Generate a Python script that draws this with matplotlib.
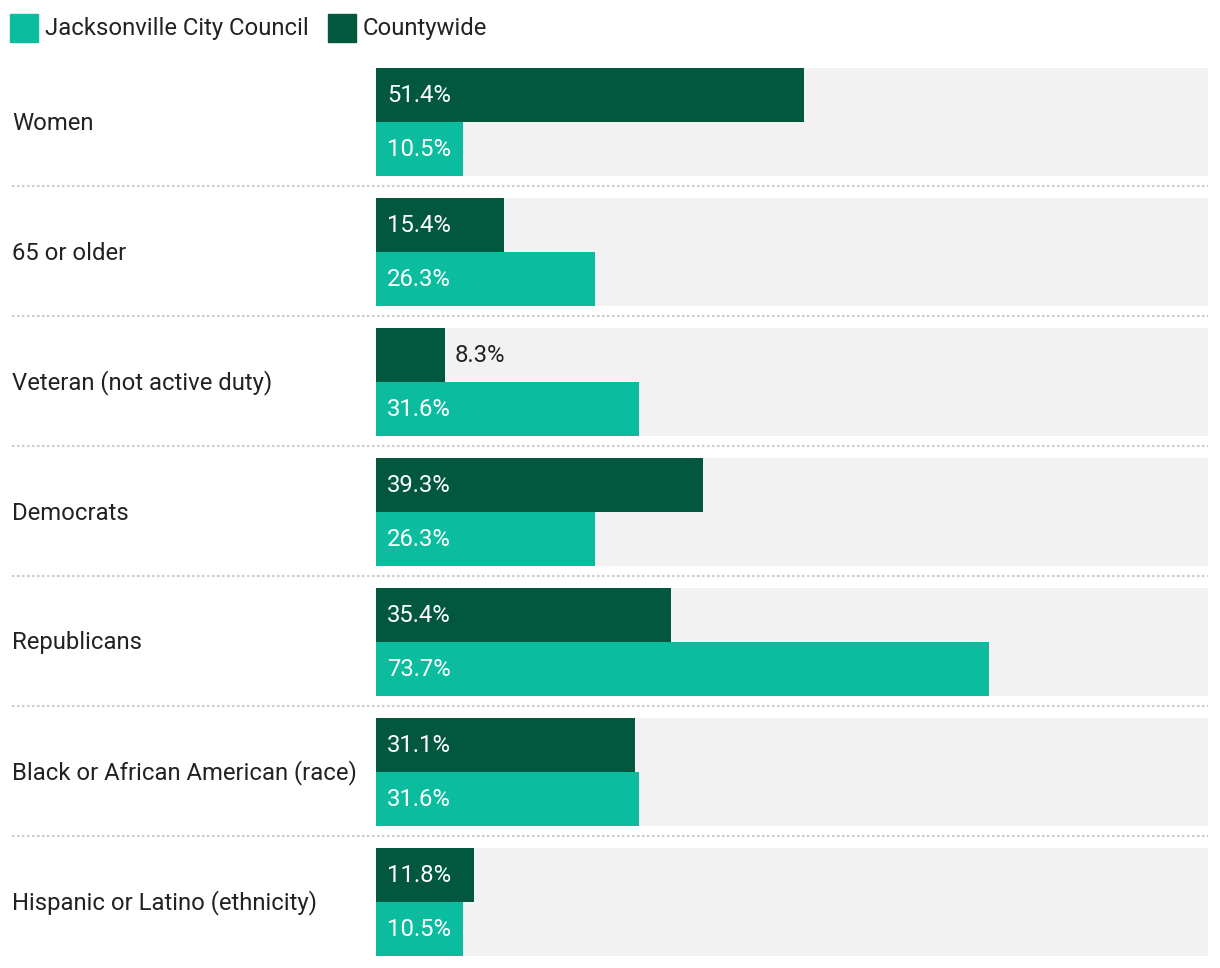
import matplotlib
matplotlib.use("Agg")
import matplotlib.pyplot as plt
from matplotlib.patches import Rectangle

plt.rcParams["font.family"] = ["Roboto", "DejaVu Sans"]

# Data
categories = ["Women", "65 or older", "Veteran (not active duty)", "Democrats",
              "Republicans", "Black or African American (race)",
              "Hispanic or Latino (ethnicity)"]
countywide = [51.4, 15.4, 8.3, 39.3, 35.4, 31.1, 11.8]
council = [10.5, 26.3, 31.6, 26.3, 73.7, 31.6, 10.5]
series_names = ["Jacksonville City Council", "Countywide"]

DARK = "#02583f"
LIGHT = "#0bbc9f"
BG = "#f2f2f2"
TXT = "#222222"
FS = 17.2

W, H = 1220, 968
fig = plt.figure(figsize=(W / 100, H / 100), dpi=100)

# axes covers the bar area in pixels: x 376..1208, y 68..956
ax = fig.add_axes([376 / W, 1 - 956 / H, 832 / W, 888 / H])
ax.set_xlim(0, 100)
ax.set_ylim(888, 0)
ax.axis("off")

pitch, bar_h = 130, 54
for i, (cat, cv, jv) in enumerate(zip(categories, countywide, council)):
    top = i * pitch
    ax.barh(top + bar_h, 100, height=2 * bar_h, color=BG, zorder=0)
    ax.barh(top + bar_h / 2, cv, height=bar_h, color=DARK, zorder=1)
    ax.barh(top + 1.5 * bar_h, jv, height=bar_h, color=LIGHT, zorder=1)
    for val, yc in [(cv, top + bar_h / 2), (jv, top + 1.5 * bar_h)]:
        if val >= 10:
            ax.text(1.3, yc + 1, f"{val}%", color="white", fontsize=FS,
                    va="center", ha="left", zorder=2)
        else:
            ax.text(val + 1.2, yc + 1, f"{val}%", color=TXT, fontsize=FS,
                    va="center", ha="left", zorder=2)
    ax.text(-364 / 8.32, top + bar_h + 1, cat, color=TXT, fontsize=FS,
            va="center", ha="left", clip_on=False)
    if i < len(categories) - 1:
        ax.plot([-364 / 8.32, 100], [top + 118, top + 118], color="#cccccc",
                lw=1.5, ls=(0, (1.2, 1.2)), clip_on=False, zorder=0)

# legend
for (x0, tx), name, col in zip([(10, 45), (328, 363)], series_names, [LIGHT, DARK]):
    fig.patches.append(Rectangle((x0 / W, 1 - 42 / H), 28 / W, 28 / H,
                                 transform=fig.transFigure, color=col))
    fig.text(tx / W, 1 - 28 / H, name, color=TXT, fontsize=FS,
             va="center", ha="left")

fig.savefig("out.png", dpi=100, facecolor="white")
